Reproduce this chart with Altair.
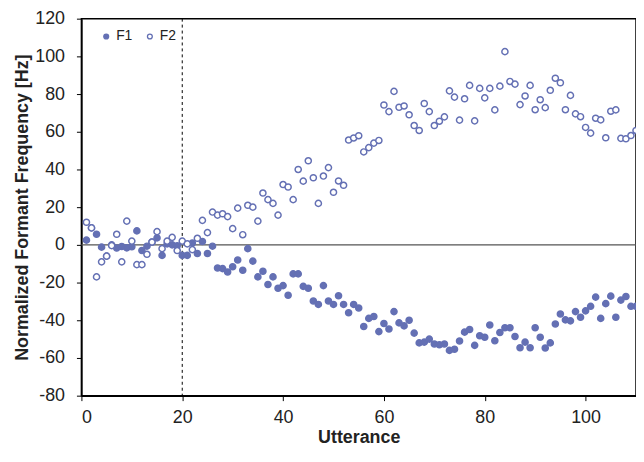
import altair as alt
import pandas as pd

utterance = list(range(1, 111))

f1 = [2.5, 9, 5.6, -1.2, -6, 0, -1.7, -0.9, -1.6, -1,
      7.4, -3, -0.7, 1.5, 3.7, -5.6, 0.5, 0, -0.5, -5.6,
      -5.6, 1, -4.6, 1.8, -4.6, -0.7, -12.3, -12.6, -14.4, -11.6,
      -8, -13.5, -2, -8.6, -17, -14, -21, -17, -23, -21.6,
      -26.7, -15.4, -15.4, -22, -23, -29.8, -31.6, -21.6, -29.8, -31.6,
      -27, -31.6, -36, -31.6, -33.5, -43.3, -39, -38, -46, -41.7,
      -44.6, -35.4, -41.4, -43, -40, -46.8, -52, -51.6, -50, -52.6,
      -53, -52.6, -56, -55.4, -51, -46.3, -44.9, -53.3, -48.2, -49,
      -42.5, -50.9, -46.5, -44, -44, -48.6, -54.6, -51.6, -54.6, -44,
      -49, -54.7, -52, -42, -36.7, -39.8, -40.3, -35.4, -38.4, -35,
      -32.6, -27.7, -39, -31.2, -27.2, -38.4, -29.3, -27.4, -32.6, -32.6]

f2 = [12, 9, -17, -9, -6, -0.4, 5.6, -9, 12.6, 2,
      -10.5, -10.5, -5, 1.5, 7, -2, 2, 4, -3, 2,
      0.5, -2.5, 3.5, 13, 6.5, 17.4, 15.8, 16.5, 15, 8.6,
      19.5, 5.4, 21, 20, 12.6, 27.5, 24, 22, 15.8, 32,
      30.7, 24, 40, 33.8, 44.6, 35.6, 22, 36.5, 41, 27.9,
      33.9, 31.6, 55.6, 56.7, 57.9, 49.3, 51.6, 54, 55.4, 74.2,
      70.7, 81.4, 73, 73.7, 69, 63.3, 60.7, 75, 70.7, 63.3,
      65.6, 67.9, 81.7, 78.4, 66.2, 77.5, 84.6, 65.8, 83, 78,
      83, 71.6, 84.2, 102.5, 86.7, 85.3, 74.4, 79, 84.6, 71.7,
      77, 72.8, 82, 88.4, 86, 71.7, 79.3, 69.5, 68, 62.3,
      59.3, 67.2, 66.3, 56.8, 70.9, 71.6, 56.5, 56.3, 58, 60.7]

series_names = ["F1", "F2"]
x_ticks = [0, 20, 40, 60, 80, 100]
y_ticks = [-80, -60, -40, -20, 0, 20, 40, 60, 80, 100, 120]
marker_line = [20]
zero_line = [0]

COLOR = "#6470B4"
FONT = "Liberation Sans"
TEXT = "#222222"

df = pd.DataFrame({
    "Utterance": utterance * 2,
    "value": f1 + f2,
    "series": [series_names[0]] * len(f1) + [series_names[1]] * len(f2),
})

x_scale = alt.Scale(domain=[0, 110], nice=False, zero=False)
y_scale = alt.Scale(domain=[-80, 120], nice=False)

x_axis = alt.Axis(values=x_ticks, title="Utterance", grid=False, domain=True,
                  domainColor="black", domainWidth=1.5,
                  tickColor="black", tickSize=5, labelFontSize=18, labelColor=TEXT,
                  titleFontSize=18, titleFontWeight="bold", titleColor=TEXT,
                  labelFont=FONT, titleFont=FONT, labelPadding=8, titlePadding=2,
                  labelOverlap=False, labelExpr="'' + datum.value")
y_axis = alt.Axis(values=y_ticks, title="Normalized Formant Frequency [Hz]", grid=False,
                  domain=True, domainColor="black", domainWidth=1.5,
                  tickColor="black", tickSize=5, labelFontSize=18,
                  labelColor=TEXT, titleFontSize=18, titleFontWeight="bold",
                  titleColor=TEXT, labelFont=FONT, titleFont=FONT, labelPadding=12,
                  titlePadding=3, labelOverlap=False, labelExpr="'' + datum.value")

points = alt.Chart(df).mark_point(shape="circle", size=38, strokeWidth=1.5, opacity=1,
                                  stroke=COLOR).encode(
    x=alt.X("Utterance:Q", scale=x_scale, axis=x_axis),
    y=alt.Y("value:Q", scale=y_scale, axis=y_axis),
    fill=alt.Fill("series:N", scale=alt.Scale(domain=series_names, range=[COLOR, "white"]),
                  legend=alt.Legend(title=None, orient="none", legendX=18, legendY=11,
                                    direction="horizontal", symbolType="circle",
                                    symbolSize=24, symbolStrokeColor=COLOR,
                                    symbolStrokeWidth=1.3, labelFontSize=14,
                                    labelFont=FONT, labelColor=TEXT, columnPadding=10,
                                    labelOffset=3)),
    order=alt.Order("series:N"),
)

zero = alt.Chart(pd.DataFrame({"value": zero_line})).mark_rule(color="#555555", strokeWidth=1.3).encode(
    y=alt.Y("value:Q", scale=y_scale, axis=y_axis))

vline = alt.Chart(pd.DataFrame({"Utterance": marker_line})).mark_rule(
    color="black", strokeWidth=1, strokeDash=[3, 3]).encode(
    x=alt.X("Utterance:Q", scale=x_scale, axis=x_axis))

chart = alt.layer(vline, zero, points).properties(
    width=559, height=380,
    autosize=alt.AutoSizeParams(type="none"),
    padding={"left": 74, "top": 9, "right": 0, "bottom": 51},
    background="white",
).configure_view(stroke="#000000", strokeWidth=1.5, strokeOpacity=1).configure_axis(
    domainColor="#000000", tickColor="#000000", domainOpacity=1, tickOpacity=1)

chart.save("out.html", embed_options={"renderer": "svg", "actions": False})
